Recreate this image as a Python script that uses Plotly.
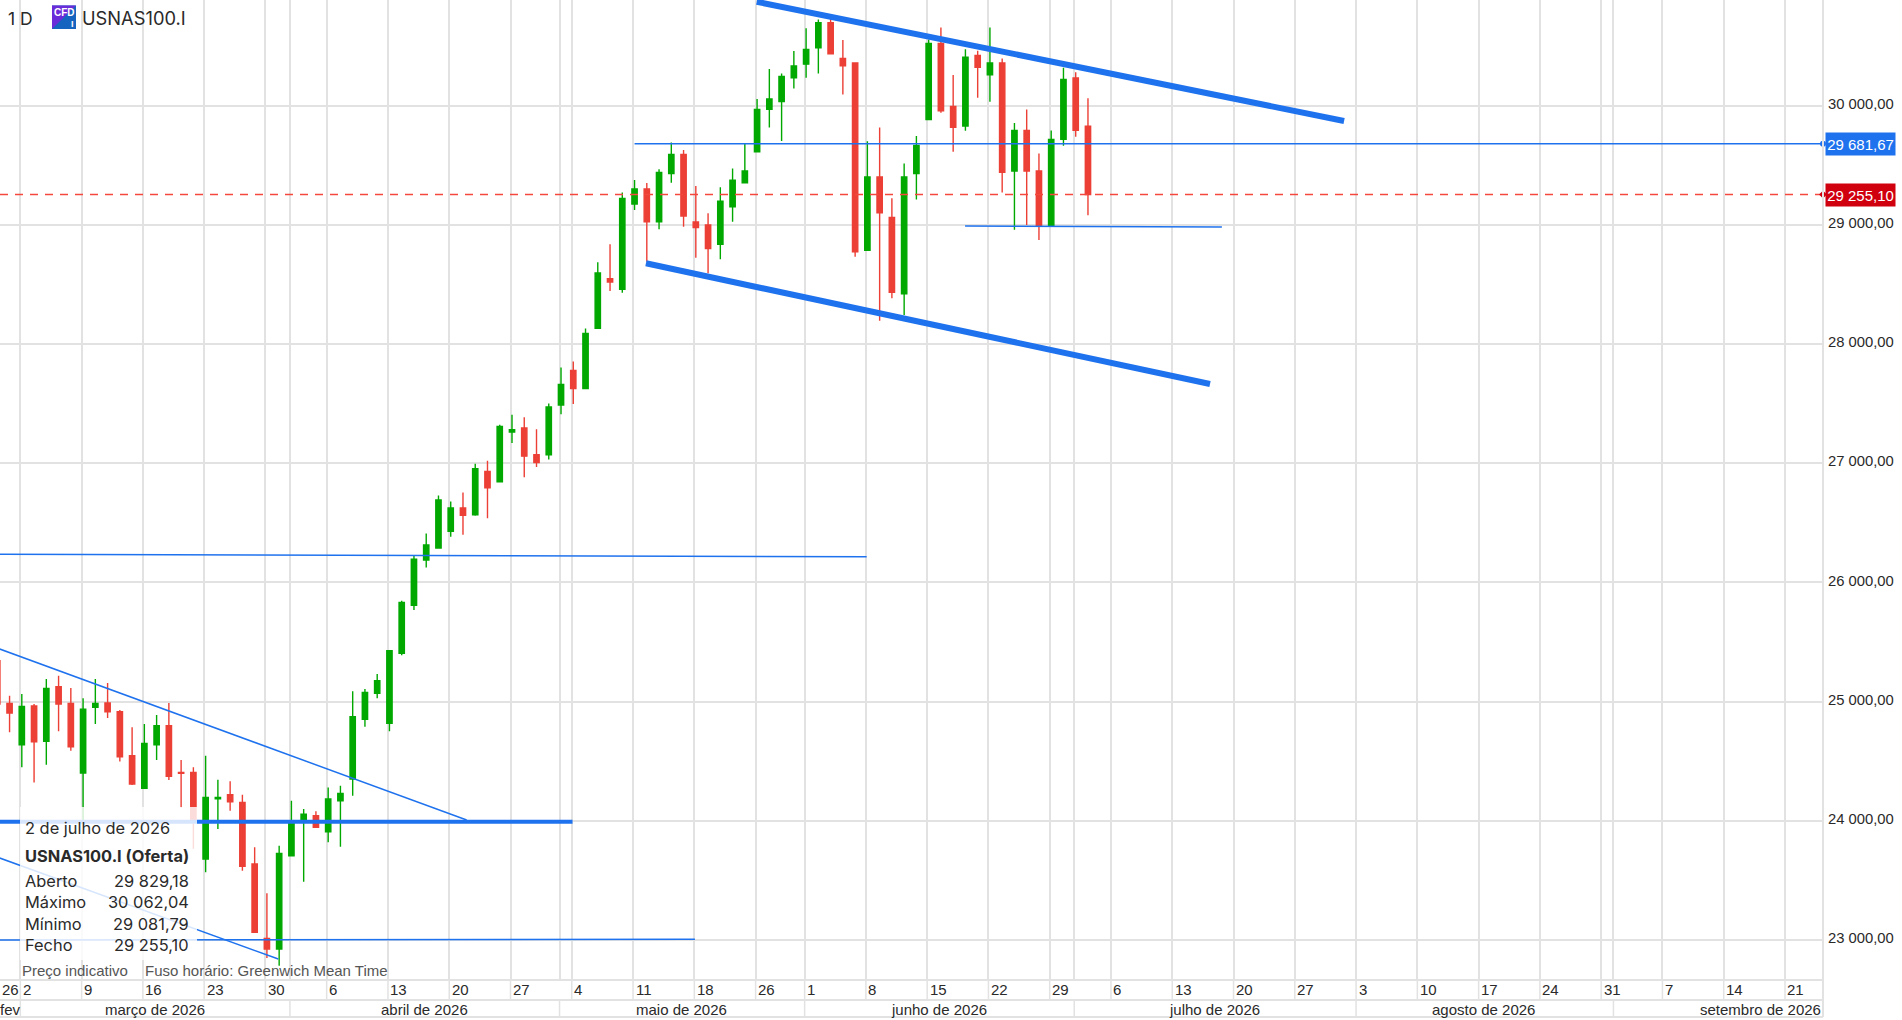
import pandas as pd
import plotly.graph_objects as go

# every weekday slot of the chart, 25 May is a market holiday with no slot
slots = [d for d in pd.bdate_range("2026-02-26", "2026-09-30") if d != pd.Timestamp("2026-05-25")]
slot_index = {d.strftime("%Y-%m-%d"): i for i, d in enumerate(slots)}

opens = [25344, 24986, 24639, 24964, 24667, 25126, 24986, 24401, 24952, 24989,
         24916, 24547, 24273, 24639, 24799, 24407, 24407, 23680, 24186, 24220,
         24155, 23638, 23014, 22925, 23708, 23993, 24043, 23909, 24169, 24351,
         24852, 25070, 24818, 25405, 25809, 26188, 26289, 26429, 26626, 26567,
         26931, 26844, 27262, 27296, 27072, 27072, 27489, 27778, 27627, 28133,
         28549, 28459, 29175, 29301, 29027, 29430, 29592, 29024, 28999, 28837,
         29153, 29354, 29614, 29969, 30034, 30235, 30349, 30487, 30696, 30397,
         30358, 28787, 29402, 29063, 28423, 29430, 29883, 30523, 29994, 29829,
         30422, 30260, 30358, 29452, 29793, 29452, 28991, 29718, 30232, 29829.18]
highs = [25370, 25050, 25064, 24980, 25190, 25218, 25115, 25028, 25190, 25157,
         24930, 24785, 24813, 24888, 24989, 24511, 24449, 24547, 24346, 24332,
         24220, 23778, 23392, 23792, 24169, 24099, 24080, 24281, 24295, 25087,
         25106, 25232, 25434, 25846, 26224, 26412, 26729, 26679, 26755, 26996,
         27021, 27324, 27408, 27386, 27285, 27501, 27804, 27854, 28132, 28686,
         28837, 29273, 29376, 29351, 29466, 29692, 29628, 29326, 29097, 29315,
         29474, 29678, 30056, 30308, 30271, 30459, 30649, 30724, 30733, 30551,
         30361, 29701, 29818, 29223, 29516, 29746, 30556, 30657, 30257, 30473,
         30461, 30657, 30397, 29855, 29969, 29600, 29793, 30319, 30280, 30062.04]
lows = [24950, 24743, 24449, 24323, 24471, 24751, 24589, 24001, 24813, 24863,
        24499, 24300, 24267, 24511, 24343, 24113, 23766, 23568, 23932, 24085,
        23582, 23062, 22849, 22785, 23705, 23490, 23940, 23820, 23783, 24211,
        24790, 25028, 24751, 25390, 25770, 26126, 26286, 26384, 26401, 26561,
        26539, 26842, 27170, 26884, 26968, 27032, 27411, 27498, 27624, 28130,
        28446, 28431, 29125, 28691, 28963, 29354, 28985, 28725, 28594, 28711,
        29027, 29351, 29611, 29818, 29704, 30145, 30235, 30271, 30433, 30095,
        28733, 28784, 28197, 28384, 28244, 29214, 29880, 29941, 29614, 29790,
        30067, 30034, 29273, 28960, 28999, 28873, 28988, 29664, 29740, 29081.79]
closes = [24980, 24905, 24961, 24664, 25112, 24980, 24622, 24938, 24986, 24916,
          24538, 24309, 24650, 24799, 24373, 24399, 24001, 24197, 24197, 24161,
          23618, 23065, 22925, 23727, 23987, 24057, 23946, 24183, 24231, 24874,
          25078, 25176, 25428, 25832, 26196, 26314, 26693, 26626, 26564, 26954,
          26794, 27310, 27282, 27060, 27007, 27473, 27661, 27627, 28090, 28597,
          28521, 29223, 29301, 29027, 29441, 29592, 29075, 28977, 28801, 29200,
          29376, 29452, 29969, 30056, 30246, 30333, 30473, 30696, 30436, 30336,
          28775, 29402, 29102, 28434, 29402, 29667, 30523, 29958, 29818, 30408,
          30322, 30358, 29441, 29793, 29452, 28991, 29718, 30221, 29793, 29255.10]

price_ticks = [23000, 24000, 25000, 26000, 27000, 28000, 29000, 30000]
price_labels = ["23 000,00", "24 000,00", "25 000,00", "26 000,00",
                "27 000,00", "28 000,00", "29 000,00", "30 000,00"]

week_dates = ["2026-03-02", "2026-03-09", "2026-03-16", "2026-03-23", "2026-03-30",
              "2026-04-06", "2026-04-13", "2026-04-20", "2026-04-27", "2026-05-04",
              "2026-05-11", "2026-05-18", "2026-05-26", "2026-06-01", "2026-06-08",
              "2026-06-15", "2026-06-22", "2026-06-29", "2026-07-06", "2026-07-13",
              "2026-07-20", "2026-07-27", "2026-08-03", "2026-08-10", "2026-08-17",
              "2026-08-24", "2026-08-31", "2026-09-07", "2026-09-14", "2026-09-21"]
month_dates = ["2026-03-02", "2026-04-01", "2026-05-01", "2026-06-01",
               "2026-07-01", "2026-08-03", "2026-09-01"]
month_labels = ["março de 2026", "abril de 2026", "maio de 2026", "junho de 2026",
                "julho de 2026", "agosto de 2026", "setembro de 2026"]
month_centers = [12.9, 34.9, 55.85, 76.85, 99.3, 121.3, 143.85]

# drawn trend lines: slot positions and prices at their two ends
upper_x, upper_y = [61.97, 109.9], [30872, 29872]
lower_x, lower_y = [52.93, 98.96], [28678, 27665]
short_x, short_y = [78.97, 99.93], [28991, 28982]
mid_x, mid_y = [0.2, 70.94], [26236, 26216]
diag_x, diag_y = [0.2, 38.3], [25442, 24007]
base_x, base_y = [0.2, 46.94], [23993, 23993]
diag2_x, diag2_y = [0.2, 22.93], [23688, 22841]
floor_x, floor_y = [0.2, 56.93], [23000, 23007]
resist_price = 29681.67
resist_start = 52
last_close = 29255.10

legend_rows = [("Aberto", "29 829,18"), ("Máximo", "30 062,04"),
               ("Mínimo", "29 081,79"), ("Fecho", "29 255,10")]

GREEN = "#00A800"
RED = "#EC3F35"
BLUE = "#1F72EE"
GRID = "#E2E2E2"
TEXT = "#2A2A2A"
WIDTH, HEIGHT = 1902, 1020
PLOT_W, PLOT_H = 1823, 980
X_RANGE = [0.22, 148.98]
GRID_SHIFT = 0.122


def paper_x(px):
    return px / PLOT_W


def paper_y(py):
    return (PLOT_H - py) / PLOT_H


def label(text, px, py, size=15, anchor="left", color=TEXT, family="Liberation Sans", bold=False):
    return dict(text=f"<b>{text}</b>" if bold else text, xref="paper", yref="paper",
                x=paper_x(px), y=paper_y(py), xanchor=anchor, yanchor="middle", showarrow=False,
                font=dict(size=size, color=color, family=family))


def pos(date):
    return slot_index[date]


fig = go.Figure()
fig.add_trace(go.Candlestick(
    x=list(range(len(opens))), open=opens, high=highs, low=lows, close=closes,
    increasing=dict(line=dict(color=GREEN, width=1.4), fillcolor=GREEN),
    decreasing=dict(line=dict(color=RED, width=1.4), fillcolor=RED),
    whiskerwidth=0, showlegend=False, hoverinfo="skip"))

thin_lines = [(mid_x, mid_y), (diag_x, diag_y), (diag2_x, diag2_y), (floor_x, floor_y), (short_x, short_y),
              ([resist_start, X_RANGE[1]], [resist_price, resist_price])]
for xs, ys in thin_lines:
    fig.add_trace(go.Scatter(x=xs, y=ys, mode="lines", line=dict(color=BLUE, width=1.5),
                             showlegend=False, hoverinfo="skip"))
for xs, ys, w in [(upper_x, upper_y, 6), (lower_x, lower_y, 6), (base_x, base_y, 4)]:
    fig.add_trace(go.Scatter(x=xs, y=ys, mode="lines", line=dict(color=BLUE, width=w),
                             showlegend=False, hoverinfo="skip"))
fig.add_trace(go.Scatter(x=[X_RANGE[0], X_RANGE[1]], y=[last_close, last_close], mode="lines",
                         line=dict(color="#F4483E", width=1.4, dash="8px,7px"),
                         showlegend=False, hoverinfo="skip"))
fig.add_trace(go.Scatter(x=[X_RANGE[1]], y=[resist_price], mode="markers", cliponaxis=False,
                         marker=dict(color=BLUE, size=6), showlegend=False, hoverinfo="skip"))
fig.add_trace(go.Scatter(x=[X_RANGE[1]], y=[last_close], mode="markers", cliponaxis=False,
                         marker=dict(color="#D0000F", size=6, symbol="diamond"),
                         showlegend=False, hoverinfo="skip"))

grid_dates = sorted(set(week_dates + month_dates))

shapes = []
# the week and month lines carry on through the two date rows
for d in week_dates:
    shapes.append(dict(type="line", xref="x", yref="paper", x0=pos(d) - GRID_SHIFT, x1=pos(d) - GRID_SHIFT,
                       y0=paper_y(980), y1=paper_y(1000), line=dict(color=GRID, width=1.5)))
for d in month_dates:
    shapes.append(dict(type="line", xref="x", yref="paper", x0=pos(d) - GRID_SHIFT, x1=pos(d) - GRID_SHIFT,
                       y0=paper_y(1000), y1=paper_y(1017), line=dict(color=GRID, width=1.5)))
for py in [980, 1000, 1017]:
    shapes.append(dict(type="line", xref="paper", yref="paper", x0=0, x1=1, y0=paper_y(py), y1=paper_y(py),
                       line=dict(color=GRID, width=2)))
shapes.append(dict(type="line", xref="paper", yref="paper", x0=1, x1=1, y0=1, y1=paper_y(1017),
                   line=dict(color=GRID, width=2)))
# info box, semi transparent over the candles
shapes.append(dict(type="rect", xref="paper", yref="paper", x0=paper_x(20), x1=paper_x(197),
                   y0=paper_y(807), y1=paper_y(960), fillcolor="rgba(255,255,255,0.82)",
                   line=dict(width=0), layer="above"))
# CFD badge
shapes.append(dict(type="rect", xref="paper", yref="paper", x0=paper_x(52), x1=paper_x(76),
                   y0=paper_y(5.5), y1=paper_y(29), fillcolor="#1565C0", line=dict(width=0), layer="above"))
shapes.append(dict(type="path", xref="paper", yref="paper", layer="above", fillcolor="#6A2BD9", line=dict(width=0),
                   path=f"M {paper_x(52)} {paper_y(5.5)} L {paper_x(76)} {paper_y(5.5)} L {paper_x(52)} {paper_y(29)} Z"))

annotations = []
annotations.append(label("26", 0, 990))
for d in week_dates:
    annotations.append(dict(text=str(int(d[-2:])), xref="x", yref="paper", x=pos(d) - GRID_SHIFT, y=paper_y(990),
                            xanchor="left", yanchor="middle", xshift=0.5, showarrow=False,
                            font=dict(size=15, color=TEXT, family="Liberation Sans")))
annotations.append(label("fev", -2, 1010))
for center, text in zip(month_centers, month_labels):
    annotations.append(dict(text=text, xref="x", yref="paper", x=center, y=paper_y(1010), xanchor="center",
                            yanchor="middle", showarrow=False,
                            font=dict(size=15, color=TEXT, family="Liberation Sans")))

annotations.append(label("1 D", 6, 18, size=17.5, family="Inter"))
annotations.append(label("USNAS100.I", 80, 18, size=18.3, family="Inter"))
annotations.append(label("CFD", 64, 12, size=10, anchor="center", color="white", family="Liberation Sans", bold=True))
annotations.append(label("I", 72, 24, size=9, anchor="center", color="white", family="Liberation Sans", bold=True))

annotations.append(label("2 de julho de 2026", 23, 828, size=16.4, family="Inter"))
annotations.append(label("USNAS100.I (Oferta)", 23, 856, size=16.4, family="Inter", bold=True))
for (name, value), py in zip(legend_rows, [881, 902, 924, 945]):
    annotations.append(label(name, 23, py, size=16.4, family="Inter"))
    annotations.append(label(value, 191, py, size=16.4, anchor="right", family="Inter"))
annotations.append(label("Preço indicativo", 19.5, 970, size=15, color="#555555"))
annotations.append(label("Fuso horário: Greenwich Mean Time", 142.5, 970, size=15, color="#555555"))

for price, text, color in [(resist_price, "29 681,67", BLUE), (last_close, "29 255,10", "#D0000F")]:
    annotations.append(dict(text=text, xref="paper", yref="y", x=1, y=price, xshift=1.5, xanchor="left",
                            yanchor="middle", showarrow=False, bgcolor=color, width=69, height=22, borderpad=0,
                            font=dict(size=15, color="white", family="Liberation Sans")))

fig.update_layout(
    width=WIDTH, height=HEIGHT, margin=dict(l=0, r=WIDTH - PLOT_W, t=0, b=HEIGHT - PLOT_H),
    paper_bgcolor="white", plot_bgcolor="white", boxgap=0.38, showlegend=False,
    shapes=shapes, annotations=annotations,
    xaxis=dict(range=X_RANGE, tickvals=[pos(d) - GRID_SHIFT for d in grid_dates], ticktext=["" for d in grid_dates],
               showgrid=True, gridcolor=GRID, gridwidth=1.5, zeroline=False, showline=False, ticks="",
               rangeslider=dict(visible=False)),
    yaxis=dict(range=[22665, 30887], side="right", tickvals=price_ticks, ticktext=price_labels,
               showgrid=True, gridcolor=GRID, gridwidth=1.5, zeroline=False, showline=False, ticks="",
               ticklabelshift=-2, ticklabelstandoff=4,
               tickfont=dict(size=14.8, color=TEXT, family="Liberation Sans")),
)

fig.write_html("out.html", config=dict(displayModeBar=False), post_script="document.body.style.margin='0';")
